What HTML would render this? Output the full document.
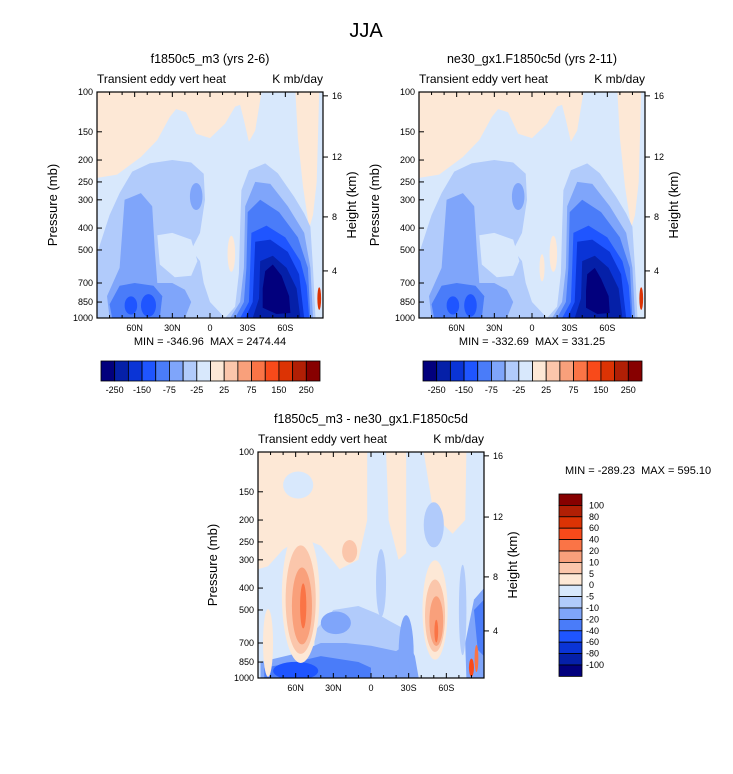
<!DOCTYPE html>
<html><head><meta charset="utf-8">
<style>
html,body{margin:0;padding:0;background:#fff;}
svg{display:block;font-family:"Liberation Sans",Arial,sans-serif;}
</style></head>
<body>
<svg id="chart" width="733" height="774" viewBox="0 0 733 774" xmlns="http://www.w3.org/2000/svg">
<text x="366" y="37" text-anchor="middle" font-size="20">JJA</text>
</svg>
<script>
// ---------- shared data ----------
const palette = ["#02007d","#0520a8","#0a34d6","#1f55ff","#4a7cf9","#7fa5fa","#b1cbfb","#d8e8fc","#fde8d6","#fbc6ab","#f9a07b","#fa7446","#f84a1a","#dc3304","#b11f05","#870000"];
const latTicks = [60,30,0,-30,-60];
const latLabels = ["60N","30N","0","30S","60S"];
const pressureTicks = [100,150,200,250,300,400,500,700,850,1000];
const heightTicks = [16,12,8,4];
const heightTickP = [104,194,357,619];
const cbLabelsTop = ["-250","-150","-75","-25","25","75","150","250"];
const cbLabelsDiff = ["100","80","60","40","20","10","5","0","-5","-10","-20","-40","-60","-80","-100"];

// shapes: polygons [colorIdx, [[lat,p],...]] ; ellipses [colorIdx, lat, p, rLat, rDecade]
const p1Polys = [
 [8,[[90,100],[-41,100],[-36,148],[-31,166],[-27,133],[-24,114],[-20,116],[-12,138],[0,160],[11,153],[19,123],[27,119],[32,129],[42,163],[55,194],[74,232],[90,240]]],
 [8,[[-68,100],[-70,160],[-74,260],[-79,400],[-82,350],[-85,250],[-87,100]]],
 [6,[[90,520],[80,350],[72,280],[62,225],[48,207],[30,200],[15,205],[5,230],[4,300],[8,420],[15,500],[8,560],[5,700],[0,850],[-12,1000],[90,1000]]],
 [7,[[42,430],[30,420],[15,450],[10,560],[15,650],[28,660],[40,580]]],
 [5,[[68,300],[55,280],[46,320],[44,500],[42,700],[30,700],[20,750],[15,850],[20,1000],[80,1000],[82,800],[72,600]]],
 [4,[[72,720],[60,700],[45,720],[38,800],[40,1000],[78,1000],[80,870]]],
 [6,[[-25,272],[-31,222],[-44,207],[-54,229],[-67,291],[-75,345],[-80,395],[-82,600],[-84,1000],[-12,1000],[-20,890],[-23,635],[-24,400]]],
 [5,[[-28,320],[-36,250],[-48,255],[-62,320],[-75,420],[-80,600],[-82,1000],[-16,1000],[-24,850],[-27,600]]],
 [4,[[-30,340],[-40,300],[-55,340],[-70,440],[-78,600],[-80,1000],[-20,1000],[-27,850],[-29,600]]],
 [3,[[-33,420],[-45,390],[-60,440],[-72,560],[-77,720],[-79,1000],[-24,1000],[-31,850],[-32,600]]],
 [2,[[-36,460],[-48,450],[-62,510],[-71,640],[-75,1000],[-28,1000],[-34,850]]],
 [1,[[-40,560],[-50,530],[-61,600],[-69,740],[-72,1000],[-34,1000],[-39,820]]],
 [0,[[-44,620],[-50,580],[-57,650],[-63,800],[-64,950],[-53,960],[-42,900],[-42,740]]]
];
const p1Ells = [[5,11,290,5,0.06],[3,63,880,5,0.04],[3,49,880,6,0.05],[8,-17,520,3,0.08],[13,-87,820,1.5,0.05]];
const p2Polys = p1Polys.slice(0,12).concat([[0,[[-44,640],[-50,600],[-55,670],[-61,800],[-62,950],[-52,960],[-43,900],[-43,760]]]]);
const p2Ells = [[5,11,290,5,0.06],[3,63,880,5,0.04],[3,49,880,5,0.05],[8,-17,520,3,0.08],[8,-8,600,2,0.06],[13,-87,820,1.5,0.05]];

const p3Polys = [
 [8,[[90,100],[3,100],[3,200],[10,300],[25,330],[40,260],[55,240],[70,270],[82,320],[90,330]]],
 [8,[[-12,100],[-28,100],[-28,280],[-22,300],[-14,200]]],
 [8,[[-42,100],[-76,100],[-75,200],[-65,230],[-50,190]]],
 [6,[[45,620],[30,500],[10,480],[-5,520],[-15,560],[-25,600],[-25,800],[45,800]]],
 [5,[[88,850],[60,780],[40,700],[20,700],[0,720],[-20,760],[-30,700],[-35,800],[-38,1000],[88,1000]]],
 [4,[[85,1000],[85,900],[60,850],[40,800],[10,850],[0,900],[0,1000]]],
 [5,[[-75,700],[-82,450],[-90,400],[-90,1000],[-76,1000]]],
 [4,[[-82,500],[-90,450],[-90,800],[-85,750]]]
];
const p3Ells = [
 [7,58,140,12,0.06],[6,-50,210,8,0.1],[6,-8,380,4,0.15],[5,28,570,12,0.05],[5,-28,780,6,0.17],[3,60,930,18,0.04],[6,-73,500,3,0.2],[8,82,700,4,0.15],
 [8,56,430,15,0.3],[9,56,450,12,0.24],[10,55,480,8,0.17],[11,54,480,2.5,0.1],
 [9,17,275,6,0.05],
 [8,-51,500,10,0.22],[9,-51,530,8,0.16],[10,-52,560,5.5,0.11],[11,-52,620,1.5,0.05],
 [12,-80,900,2,0.04],[11,-84,820,1.5,0.06]
];

const NS="http://www.w3.org/2000/svg";
const svg=document.getElementById('chart');
function mk(tag,attrs,parent,txt){const e=document.createElementNS(NS,tag);for(const k in attrs)e.setAttribute(k,attrs[k]);if(txt!==undefined)e.textContent=txt;(parent||svg).appendChild(e);return e;}

function panel(id,x0,y0,polys,ells,title,leftLblX,rightLblX){
 const W=226,H=226;
 const xs=lat=>x0+(90-lat)/180*W;
 const ys=p=>y0+Math.log10(p/100)*H;
 const g=mk('g',{});
 
 
 const cp=mk('clipPath',{id:'clip-'+id},g);
 mk('rect',{x:x0,y:y0,width:W,height:H},cp);
 const field=mk('g',{'clip-path':'url(#clip-'+id+')'},g);
 
 
 mk('rect',{x:x0,y:y0,width:W,height:H,fill:palette[7]},field);
 polys.forEach(pl=>{
  const pts=pl[1].map(q=>xs(q[0]).toFixed(1)+','+ys(q[1]).toFixed(1)).join(' ');
  const e=mk('polygon',{points:pts,fill:palette[pl[0]]},field);
  
  
 });
 ells.forEach(el=>{
  const e=mk('ellipse',{cx:xs(el[1]),cy:ys(el[2]),rx:el[3]/180*W,ry:el[4]*H,fill:palette[el[0]]},field);
  
  
 });
 mk('rect',{x:x0,y:y0,width:W,height:H,fill:'none',stroke:'#000','stroke-width':1.2},g);
 for(let l=-80;l<=80;l+=10){
  const major=latTicks.includes(l);const len=major?5:3;const X=xs(l);
  mk('line',{x1:X,x2:X,y1:y0+H,y2:y0+H-len,stroke:'#000'},g);
  mk('line',{x1:X,x2:X,y1:y0,y2:y0+len,stroke:'#000'},g);
 }
 latTicks.forEach((l,i)=>{
  const t=mk('text',{x:xs(l),y:y0+H+13,'text-anchor':'middle','font-size':9},g,latLabels[i]);
  
  
 });
 pressureTicks.forEach(p=>{
  const Y=ys(p);
  mk('line',{x1:x0,x2:x0+5,y1:Y,y2:Y,stroke:'#000'},g);
  const t=mk('text',{x:x0-4,y:Y+3,'text-anchor':'end','font-size':9},g,String(p));
  
  
 });
 heightTicks.forEach((h,i)=>{
  const Y=ys(heightTickP[i]);
  mk('line',{x1:x0+W,x2:x0+W+5,y1:Y,y2:Y,stroke:'#000'},g);
  const t=mk('text',{x:x0+W+9,y:Y+3,'font-size':9},g,String(h));
  
  
 });
 const cx=x0+W/2;
 const tt=mk('text',{x:cx,y:y0-29,'text-anchor':'middle','font-size':12.5},g,title);
 
 
 const s1=mk('text',{x:x0,y:y0-9,'font-size':12},g,'Transient eddy vert heat');
 
 
 const s2=mk('text',{x:x0+W,y:y0-9,'text-anchor':'end','font-size':12},g,'K mb/day');
 
 
 const ya=mk('text',{x:leftLblX,y:y0+H/2,'text-anchor':'middle','font-size':13,transform:'rotate(-90 '+leftLblX+' '+(y0+H/2)+')'},g,'Pressure (mb)');
 
 
 const yb=mk('text',{x:rightLblX,y:y0+H/2,'text-anchor':'middle','font-size':13,transform:'rotate(-90 '+rightLblX+' '+(y0+H/2)+')'},g,'Height (km)');
 
 
}

function hColorbar(id,x0,y0){
 const g=mk('g',{});
 
 
 const w=219/16;
 palette.forEach((c,i)=>{mk('rect',{x:x0+i*w,y:y0,width:w,height:20,fill:c,stroke:'#000','stroke-width':0.8},g);});
 cbLabelsTop.forEach((l,i)=>{
  const t=mk('text',{x:x0+(1+2*i)*w,y:y0+32,'text-anchor':'middle','font-size':9},g,l);
  
  
 });
}

panel('panel-f1850c5-m3',97,92,p1Polys,p1Ells,'f1850c5_m3 (yrs 2-6)',57,356);
panel('panel-ne30',419,92,p2Polys,p2Ells,'ne30_gx1.F1850c5d (yrs 2-11)',379,678);
panel('panel-difference',258,452,p3Polys,p3Ells,'f1850c5_m3 - ne30_gx1.F1850c5d',217,517);

const m1=mk('text',{x:210,y:345,'text-anchor':'middle','font-size':11},svg,'MIN = -346.96\u00a0\u00a0MAX = 2474.44');


const m2=mk('text',{x:532,y:345,'text-anchor':'middle','font-size':11},svg,'MIN = -332.69\u00a0\u00a0MAX = 331.25');


const m3=mk('text',{x:565,y:474,'font-size':11},svg,'MIN = -289.23\u00a0\u00a0MAX = 595.10');



hColorbar('colorbar-panel1',101,361);
hColorbar('colorbar-panel2',423,361);

(function(){
 const g=mk('g',{});
 
 
 const x0=559,y0=494,h=11.4;
 for(let i=0;i<16;i++){
  mk('rect',{x:x0,y:y0+i*h,width:23,height:h,fill:palette[15-i],stroke:'#000','stroke-width':0.8},g);
 }
 cbLabelsDiff.forEach((l,i)=>{
  const t=mk('text',{x:l.startsWith('-')?586:589,y:y0+(i+1)*h+3,'font-size':9},g,l);
  
  
 });
})();
</script>
</body></html>
